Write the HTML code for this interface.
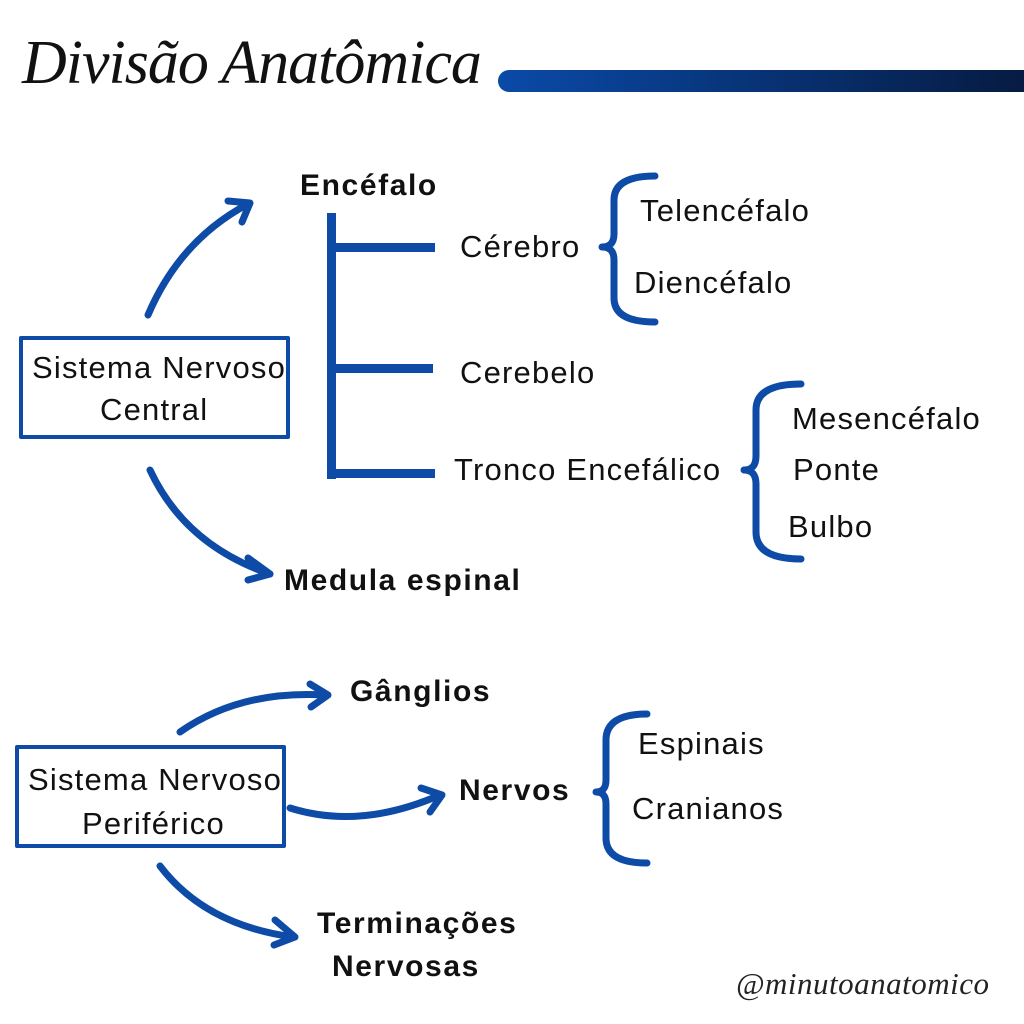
<!DOCTYPE html>
<html><head><meta charset="utf-8"><style>
html,body{margin:0;padding:0;background:#fff;}
body{width:1024px;height:1024px;position:relative;overflow:hidden;font-family:"Liberation Sans",sans-serif;}
.t{position:absolute;white-space:nowrap;color:#111;font-size:31px;line-height:1;letter-spacing:1.2px;}
.b{font-weight:bold;font-size:30px;letter-spacing:1.6px;}
</style></head><body>
<svg width="1024" height="1024" style="position:absolute;left:0;top:0">
<defs><linearGradient id="g" x1="0" x2="1"><stop offset="0" stop-color="#0a4aa8"/><stop offset="1" stop-color="#061a3f"/></linearGradient></defs>
<rect x="498" y="70" width="540" height="22" rx="11" fill="url(#g)"/>
<g fill="none" stroke="#0d4ba6" stroke-width="7" stroke-linecap="round" stroke-linejoin="round">
<rect x="21" y="338" width="267" height="99" stroke-width="4"/>
<rect x="17" y="747" width="267" height="99" stroke-width="4"/>
<path d="M148,315 Q180,240 248,204"/><path d="M228,201 L250,203 L242,222"/>
<path d="M150,470 Q185,545 270,574"/><path d="M248,558 L270,574 L248,580"/>
<path d="M180,732 Q240,690 325,695"/><path d="M310,684 L328,695 L311,707"/>
<path d="M290,808 Q360,830 440,795"/><path d="M421,788 L442,795 L430,812"/>
<path d="M160,866 Q205,925 293,937"/><path d="M275,920 L295,937 L274,945"/>
<path d="M655,176 Q614,176 614,200 L614,234 Q614,247 602,247 Q614,247 614,260 L614,298 Q614,322 655,322"/>
<path d="M801,384 Q756,384 756,410 L756,456 Q756,470 744,470 Q756,470 756,484 L756,532 Q756,559 801,559"/>
<path d="M647,714 Q606,714 606,740 L606,780 Q606,792 596,792 Q606,792 606,804 L606,838 Q606,863 647,863"/>
</g>
<g fill="#0d4ba6">
<rect x="327" y="213" width="9" height="266"/>
<rect x="327" y="243" width="108" height="9"/>
<rect x="327" y="364" width="106" height="9"/>
<rect x="327" y="469" width="108" height="9"/>
</g>
</svg>
<div class="t" style="left:22px;top:32px;font-family:'Liberation Serif',serif;font-style:italic;font-size:62px;letter-spacing:-1px">Divisão Anatômica</div>
<div class="t" style="left:32px;top:352px">Sistema Nervoso</div>
<div class="t" style="left:100px;top:394px">Central</div>
<div class="t" style="left:28px;top:764px">Sistema Nervoso</div>
<div class="t" style="left:82px;top:808px">Periférico</div>
<div class="t b" style="left:300px;top:171px">Encéfalo</div>
<div class="t b" style="left:284px;top:566px">Medula espinal</div>
<div class="t b" style="left:350px;top:677px">Gânglios</div>
<div class="t b" style="left:459px;top:776px">Nervos</div>
<div class="t b" style="left:317px;top:909px">Terminações</div>
<div class="t b" style="left:332px;top:952px">Nervosas</div>
<div class="t" style="left:460px;top:231px">Cérebro</div>
<div class="t" style="left:460px;top:357px">Cerebelo</div>
<div class="t" style="left:454px;top:454px">Tronco Encefálico</div>
<div class="t" style="left:640px;top:195px">Telencéfalo</div>
<div class="t" style="left:634px;top:267px">Diencéfalo</div>
<div class="t" style="left:792px;top:403px">Mesencéfalo</div>
<div class="t" style="left:793px;top:454px">Ponte</div>
<div class="t" style="left:788px;top:511px">Bulbo</div>
<div class="t" style="left:638px;top:728px">Espinais</div>
<div class="t" style="left:632px;top:793px">Cranianos</div>
<div class="t" style="left:736px;top:968px;font-family:'Liberation Serif',serif;font-style:italic;font-size:31px;letter-spacing:0.5px;color:#222">@minutoanatomico</div>
</body></html>
